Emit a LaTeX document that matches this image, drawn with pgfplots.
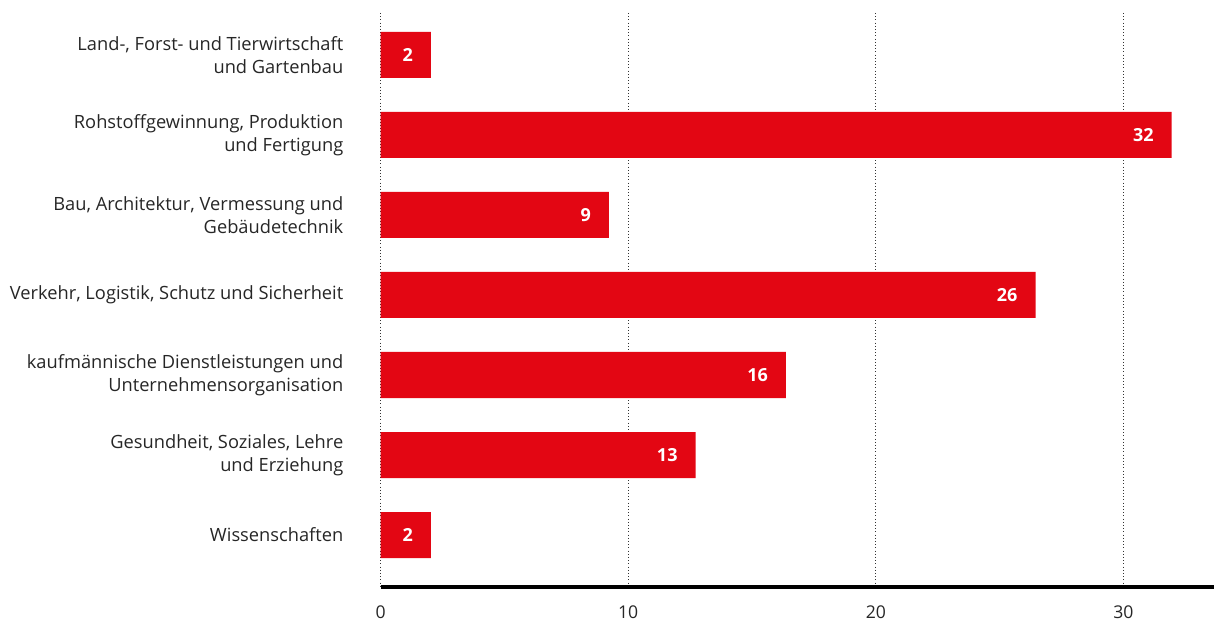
\documentclass[border=0pt]{standalone}
\usepackage{pgfplots}
\pgfplotsset{compat=1.18}
\usepackage{pgfplotstable}
\usepackage{fontspec}
\setmainfont{Open Sans}
\definecolor{barred}{HTML}{E30613}
\pgfplotstableread{
pos val lab
0 2.03 2
1 31.95 32
2 9.22 9
3 26.45 26
4 16.37 16
5 12.72 13
6 2.03 2
}\datatable
\begin{document}
\begin{tikzpicture}[x=1pt,y=1pt]
\useasboundingbox (0,0) rectangle (910.5,468);
\begin{axis}[
  at={(285.5pt,27.75pt)}, anchor=south west,
  scale only axis,
  width=625pt, height=430.5pt,
  xbar, bar width=0.575,
  xmin=0, xmax=33.66,
  ymin=-0.525, ymax=6.65,
  y dir=reverse,
  axis line style={draw=none},
  tick style={draw=none},
  clip=false,
  /pgf/number format/assume math mode=true,
  ytick={0,...,6},
  yticklabels={{Land-, Forst- und Tierwirtschaft\\und Gartenbau},
    {Rohstoffgewinnung, Produktion\\und Fertigung},
    {Bau, Architektur, Vermessung und\\Gebäudetechnik},
    {Verkehr, Logistik, Schutz und Sicherheit},
    {kaufmännische Dienstleistungen und\\Unternehmensorganisation},
    {Gesundheit, Soziales, Lehre\\und Erziehung},
    {Wissenschaften}},
  yticklabel style={align=right, anchor=east, font=\fontsize{13.7}{17.2}\selectfont, text=black!85, xshift=-24.5pt},
  xtick={0,10,20,30},
  xticklabel style={font=\fontsize{13.2}{15}\selectfont, text=black!85, yshift=-10.5pt},
  major tick length=0pt,
  xmajorgrids,
  grid style={dotted, black!80, line width=1pt},
  point meta=explicit symbolic,
  nodes near coords,
  nodes near coords style={anchor=east, xshift=-10pt, text=white, font=\fontsize{13.5}{15}\selectfont\bfseries},
]
\addplot[fill=barred, draw=none] table[x=val, y=pos, meta=lab] {\datatable};
\draw[line width=2.4pt, black] (axis cs:0,6.65) -- (axis cs:33.66,6.65);
\end{axis}
\end{tikzpicture}
\end{document}
